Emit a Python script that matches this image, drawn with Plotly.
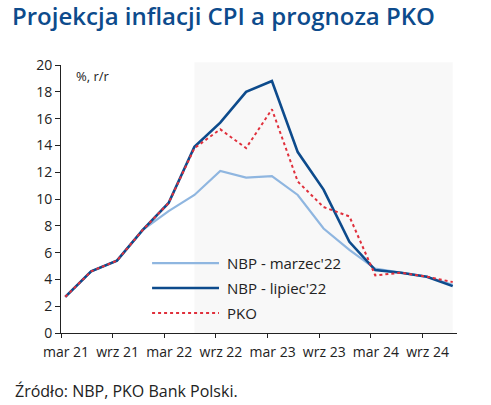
import plotly.graph_objects as go

quarters = ["mar 21", "cze 21", "wrz 21", "gru 21", "mar 22", "cze 22", "wrz 22", "gru 22",
            "mar 23", "cze 23", "wrz 23", "gru 23", "mar 24", "cze 24", "wrz 24", "gru 24"]
nbp_marzec = [2.7, 4.6, 5.4, 7.7, 9.1, 10.3, 12.1, 11.6, 11.7, 10.3, 7.8, 6.2, 4.8, 4.5, 4.2, 3.6]
nbp_lipiec = [2.7, 4.6, 5.4, 7.7, 9.7, 13.9, 15.7, 18.0, 18.8, 13.5, 10.7, 6.8, 4.7, 4.5, 4.2, 3.5]
pko = [2.7, 4.6, 5.4, 7.7, 9.7, 13.8, 15.2, 13.8, 16.7, 11.3, 9.4, 8.7, 4.3, 4.5, 4.2, 3.8]
tick_labels = ["mar 21", "wrz 21", "mar 22", "wrz 22", "mar 23", "wrz 23", "mar 24", "wrz 24"]
series_names = ["NBP - marzec'22", "NBP - lipiec'22", "PKO"]

# months since mar 21
xm = [3 * i for i in range(len(quarters))]
tickpos = [6 * k - 0.5 for k in range(len(tick_labels))]

C_LIGHT = "#8fb6e0"
C_DARK = "#0d4b8c"
C_RED = "#e0303c"
FONT = "Open Sans"

fig = go.Figure()
fig.add_trace(go.Scatter(x=xm, y=nbp_marzec, mode="lines", name=series_names[0],
                         line=dict(color=C_LIGHT, width=2.2), customdata=quarters))
fig.add_trace(go.Scatter(x=xm, y=nbp_lipiec, mode="lines", name=series_names[1],
                         line=dict(color=C_DARK, width=2.6), customdata=quarters))
fig.add_trace(go.Scatter(x=xm, y=pko, mode="lines", name=series_names[2],
                         line=dict(color=C_RED, width=2, dash="dot"), customdata=quarters))

# forecast shading (from cze 22 to end)
fig.add_shape(type="rect", xref="x", yref="paper", x0=xm[5], x1=xm[-1], y0=0, y1=1.01,
              fillcolor="#f8f8f8", line_width=0, layer="below")

# custom legend
rows = [0.261, 0.168, 0.075]
styles = [dict(color=C_LIGHT, width=2.2), dict(color=C_DARK, width=2.6),
          dict(color=C_RED, width=2, dash="dot")]
for r, st, nm in zip(rows, styles, series_names):
    fig.add_shape(type="line", xref="paper", yref="paper", x0=0.23, x1=0.399, y0=r, y1=r, line=st)
    fig.add_annotation(xref="paper", yref="paper", x=0.415, y=r, text=nm, showarrow=False,
                       xanchor="left", yanchor="middle", font=dict(family=FONT, size=15, color="#222"))

fig.add_annotation(xref="paper", yref="paper", x=0.033, y=0.96, text="%, r/r", showarrow=False,
                   xanchor="left", yanchor="middle", font=dict(family=FONT, size=13, color="#222"))

fig.update_layout(
    width=491, height=405,
    margin=dict(l=61, r=34, t=65, b=72),
    plot_bgcolor="white", paper_bgcolor="white",
    showlegend=False,
    title=dict(text="Projekcja inflacji CPI a prognoza PKO", x=12 / 491, xanchor="left",
               y=1 - 17 / 405, yanchor="middle",
               font=dict(family=FONT, size=24, color="#0d4b8c", weight=600)),
    xaxis=dict(range=[-0.5, 45.5], tickvals=tickpos, ticktext=tick_labels, ticklabelshift=5,
               ticklabelstandoff=2,
               showgrid=False, zeroline=False, showline=True, linecolor="#222", linewidth=1,
               ticks="outside", ticklen=4, tickcolor="#222",
               tickfont=dict(family=FONT, size=14, color="#222")),
    yaxis=dict(range=[0, 20], dtick=2, showgrid=False, zeroline=False, showline=True,
               linecolor="#222", linewidth=1, ticks="outside", ticklen=5, tickcolor="#222",
               tickfont=dict(family=FONT, size=14, color="#222")),
)
fig.add_annotation(xref="paper", yref="paper", x=-61 / 396, y=-58 / 268, text="Źródło: NBP, PKO Bank Polski.",
                   showarrow=False, xanchor="left", yanchor="middle",
                   font=dict(family=FONT, size=16, color="#222"), xshift=13)

fig.write_html("out.html", config={"displayModeBar": False},
               post_script="document.body.style.margin='0px';")
